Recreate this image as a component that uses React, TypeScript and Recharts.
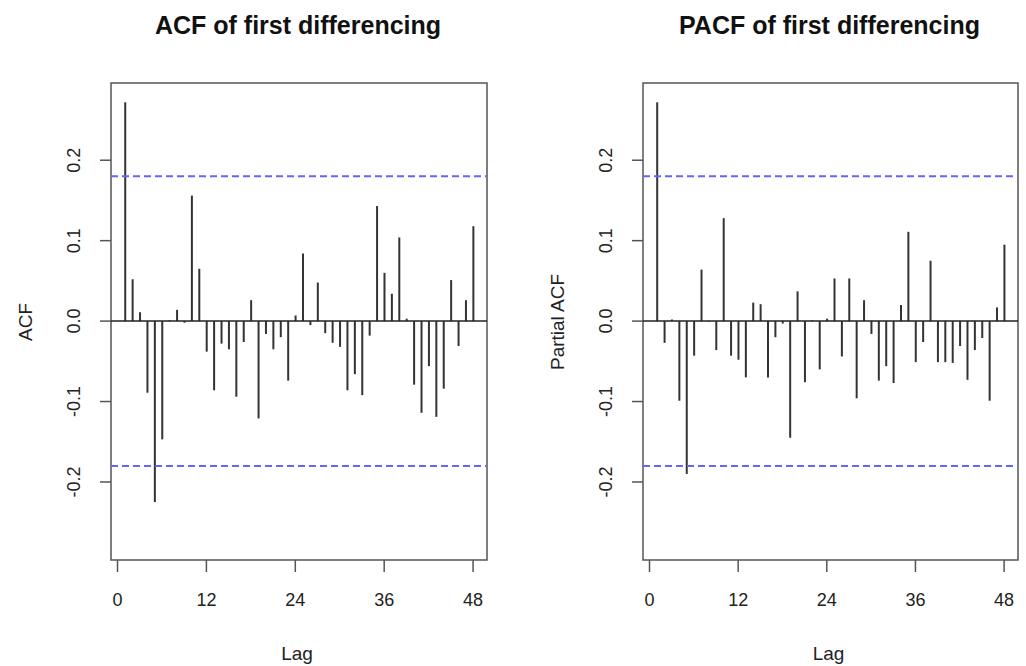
import { ComposedChart, Bar, XAxis, YAxis, ReferenceLine, ReferenceArea } from 'recharts';

// lags 1..48 (lag 0 is not plotted)
const lags = Array.from({ length: 48 }, (_, i) => i + 1);

const acfValues = [
  0.272, 0.052, 0.011, -0.089, -0.225, -0.147, 0.001, 0.014, -0.002, 0.156, 0.065, -0.038,
  -0.086, -0.028, -0.035, -0.094, -0.026, 0.026, -0.121, -0.016, -0.035, -0.02, -0.074, 0.007,
  0.084, -0.005, 0.048, -0.015, -0.027, -0.032, -0.086, -0.066, -0.092, -0.018, 0.143, 0.06,
  0.034, 0.104, 0.003, -0.079, -0.114, -0.056, -0.119, -0.084, 0.051, -0.031, 0.026, 0.118,
];

const pacfValues = [
  0.272, -0.027, 0.002, -0.099, -0.19, -0.043, 0.064, -0.001, -0.036, 0.128, -0.043, -0.048,
  -0.07, 0.023, 0.021, -0.07, -0.02, -0.003, -0.145, 0.037, -0.076, 0.001, -0.06, 0.003,
  0.053, -0.044, 0.053, -0.096, 0.026, -0.016, -0.074, -0.056, -0.077, 0.02, 0.111, -0.051,
  -0.026, 0.075, -0.051, -0.051, -0.052, -0.031, -0.073, -0.036, -0.021, -0.099, 0.017, 0.095,
];

const xTicks = [0, 12, 24, 36, 48];
const yTicks = [-0.2, -0.1, 0, 0.1, 0.2];
const yTickLabels = ['-0.2', '-0.1', '0.0', '0.1', '0.2'];
const confLimit = 0.18;

const X_DOMAIN: [number, number] = [-0.88, 49.88];
const Y_DOMAIN: [number, number] = [-0.297, 0.296];

const FONT = '"Liberation Sans", Arial, sans-serif';
const TEXT = '#222';
const FRAME = '#555';
const BLUE = '#6464ff';

function XTick(props: any) {
  const { x, y, payload } = props;
  return (
    <text x={x} y={y + 28} dy="0.35em" textAnchor="middle" fontSize={18} fill={TEXT} fontFamily={FONT}>
      {payload.value}
    </text>
  );
}

function YTick(props: any) {
  const { x, y, payload } = props;
  const cx = x - 26;
  const idx = yTicks.findIndex((t) => Math.abs(t - payload.value) < 1e-9);
  return (
    <text x={cx} y={y} dy="0.35em" transform={`rotate(-90 ${cx} ${y})`} textAnchor="middle" fontSize={18} fill={TEXT} fontFamily={FONT}>
      {idx >= 0 ? yTickLabels[idx] : payload.value}
    </text>
  );
}

function Panel({ title, yLabel, values, left, marginLeft, marginRight }: any) {
  const data = lags.map((lag, i) => ({ lag, v: values[i] }));
  const plotLeft = marginLeft + 60;
  const plotRight = 513 - marginRight;
  const plotCenter = (plotLeft + plotRight) / 2;
  return (
    <div style={{ position: 'absolute', left, top: 0, width: 513, height: 666 }}>
      <div
        style={{
          position: 'absolute', top: 10, left: plotCenter - 251, width: 500, textAlign: 'center',
          fontFamily: FONT, fontWeight: 'bold', fontSize: 25, lineHeight: '30px', color: '#111',
        }}
      >
        {title}
      </div>
      <ComposedChart width={513} height={666} data={data} margin={{ top: 83, right: marginRight, bottom: 46, left: marginLeft }}>
        <XAxis
          dataKey="lag" type="number" domain={X_DOMAIN} allowDataOverflow ticks={xTicks} interval={0}
          axisLine={false} tickSize={12} tickMargin={0} tickLine={{ stroke: FRAME, strokeWidth: 1.5 }}
          tick={<XTick />} height={60}
          label={() => (
            <text x={plotCenter - 2} y={653} dy="0.35em" textAnchor="middle" fontSize={19} fill={TEXT} fontFamily={FONT}>Lag</text>
          )}
        />
        <YAxis
          type="number" domain={Y_DOMAIN} allowDataOverflow ticks={yTicks} interval={0} width={60}
          axisLine={false} tickSize={11} tickMargin={0} tickLine={{ stroke: FRAME, strokeWidth: 1.5 }}
          tick={<YTick />}
          label={() => {
            const cx = marginLeft - 26;
            const cy = 322;
            return (
              <text x={cx} y={cy} dy="0.35em" transform={`rotate(-90 ${cx} ${cy})`} textAnchor="middle" fontSize={19} fill={TEXT} fontFamily={FONT}>
                {yLabel}
              </text>
            );
          }}
        />
        <ReferenceArea x1={X_DOMAIN[0]} x2={X_DOMAIN[1]} y1={Y_DOMAIN[0]} y2={Y_DOMAIN[1]} fill="none" fillOpacity={0} stroke={FRAME} strokeWidth={1.5} />
        <ReferenceLine y={0} stroke="#222" strokeWidth={1.5} />
        <ReferenceLine y={confLimit} stroke={BLUE} strokeWidth={2} strokeDasharray="7 4" />
        <ReferenceLine y={-confLimit} stroke={BLUE} strokeWidth={2} strokeDasharray="7 4" />
        <Bar dataKey="v" fill="#333" barSize={2} isAnimationActive={false} />
      </ComposedChart>
    </div>
  );
}

export default function App() {
  return (
    <div style={{ position: 'absolute', left: 0, top: 0, width: 1026, height: 666, background: '#fff' }}>
      <Panel title="ACF of first differencing" yLabel="ACF" values={acfValues} left={0} marginLeft={51} marginRight={26} />
      <Panel title="PACF of first differencing" yLabel="Partial ACF" values={pacfValues} left={513} marginLeft={70} marginRight={8} />
    </div>
  );
}
